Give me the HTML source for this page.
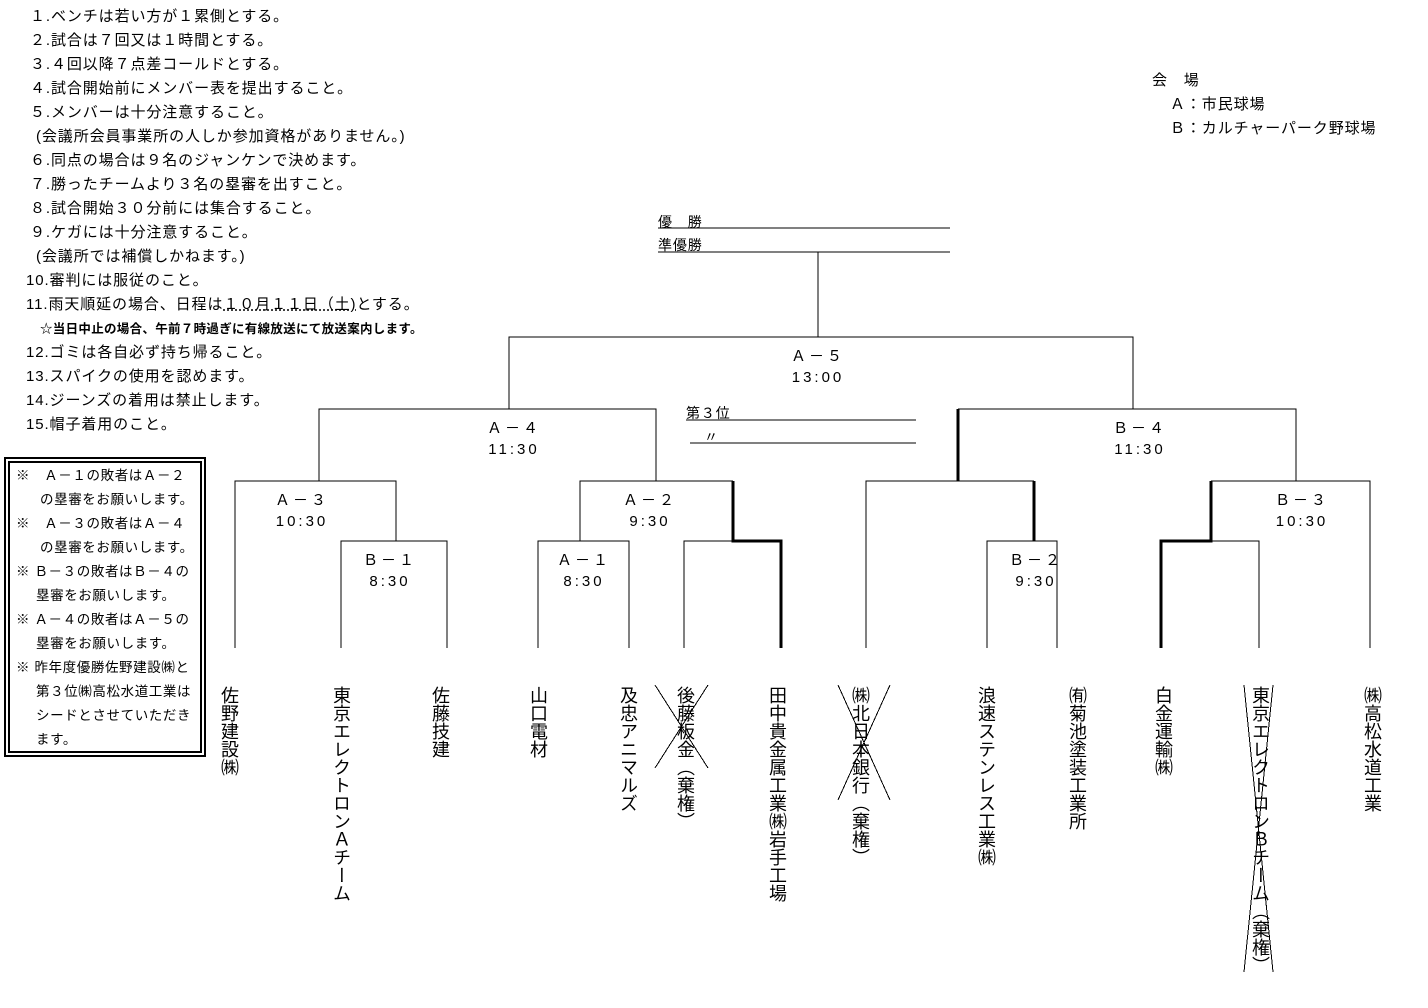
<!DOCTYPE html>
<html><head><meta charset="utf-8"><style>
body{margin:0;width:1428px;height:1008px;background:#fff;position:relative;overflow:hidden;font-family:"Liberation Sans","Noto Sans CJK JP","IPAGothic",sans-serif;color:#000}
.t{position:absolute;white-space:nowrap;font-size:15px;line-height:18px;letter-spacing:0.9px}
.v{position:absolute;writing-mode:vertical-rl;font-size:18px;line-height:18px;top:686px;white-space:nowrap;transform:translateX(-50%)}
.c{position:absolute;font-size:15px;letter-spacing:3px;transform:translateX(-50%);white-space:nowrap}
.box{position:absolute;left:4px;top:457px;width:190px;height:288px;border:6px double #000}
.n{position:absolute;font-size:13.5px;line-height:18px;white-space:nowrap;letter-spacing:0.6px}
</style></head><body>
<div class="t" style="left:30px;top:8px">１.ベンチは若い方が１累側とする。</div>
<div class="t" style="left:30px;top:32px">２.試合は７回又は１時間とする。</div>
<div class="t" style="left:30px;top:56px">３.４回以降７点差コールドとする。</div>
<div class="t" style="left:30px;top:80px">４.試合開始前にメンバー表を提出すること。</div>
<div class="t" style="left:30px;top:104px">５.メンバーは十分注意すること。</div>
<div class="t" style="left:36px;top:128px">(会議所会員事業所の人しか参加資格がありません。)</div>
<div class="t" style="left:30px;top:152px">６.同点の場合は９名のジャンケンで決めます。</div>
<div class="t" style="left:30px;top:176px">７.勝ったチームより３名の塁審を出すこと。</div>
<div class="t" style="left:30px;top:200px">８.試合開始３０分前には集合すること。</div>
<div class="t" style="left:30px;top:224px">９.ケガには十分注意すること。</div>
<div class="t" style="left:36px;top:248px">(会議所では補償しかねます。)</div>
<div class="t" style="left:26px;top:272px">10.審判には服従のこと。</div>
<div class="t" style="left:26px;top:296px">11.雨天順延の場合、日程は<span style="text-decoration:underline dotted">１０月１１日（土)</span>とする。</div>
<div class="t" style="left:40px;top:320px;font-size:12.5px;font-weight:bold;letter-spacing:0.3px">☆当日中止の場合、午前７時過ぎに有線放送にて放送案内します。</div>
<div class="t" style="left:26px;top:344px">12.ゴミは各自必ず持ち帰ること。</div>
<div class="t" style="left:26px;top:368px">13.スパイクの使用を認めます。</div>
<div class="t" style="left:26px;top:392px">14.ジーンズの着用は禁止します。</div>
<div class="t" style="left:26px;top:416px">15.帽子着用のこと。</div>

<div class="box"></div>
<div class="n" style="left:16px;top:467px">※　Ａ－１の敗者はＡ－２</div>
<div class="n" style="left:40px;top:491px">の塁審をお願いします。</div>
<div class="n" style="left:16px;top:515px">※　Ａ－３の敗者はＡ－４</div>
<div class="n" style="left:40px;top:539px">の塁審をお願いします。</div>
<div class="n" style="left:16px;top:563px">※ Ｂ－３の敗者はＢ－４の</div>
<div class="n" style="left:36px;top:587px">塁審をお願いします。</div>
<div class="n" style="left:16px;top:611px">※ Ａ－４の敗者はＡ－５の</div>
<div class="n" style="left:36px;top:635px">塁審をお願いします。</div>
<div class="n" style="left:16px;top:659px">※ 昨年度優勝佐野建設㈱と</div>
<div class="n" style="left:36px;top:683px">第３位㈱高松水道工業は</div>
<div class="n" style="left:36px;top:707px">シードとさせていただき</div>
<div class="n" style="left:36px;top:731px">ます。</div>

<div class="t" style="left:1152px;top:72px">会　場</div>
<div class="t" style="left:1170px;top:96px">Ａ：市民球場</div>
<div class="t" style="left:1170px;top:120px">Ｂ：カルチャーパーク野球場</div>

<div class="t" style="left:658px;top:213px;font-size:14px">優　勝</div>
<div class="t" style="left:658px;top:236px;font-size:14px">準優勝</div>
<div class="t" style="left:686px;top:404px;font-size:14px">第３位</div>
<div class="t" style="left:704px;top:428px;font-size:14px">〃</div>

<div class="c" style="left:818px;top:345px">Ａ－５</div>
<div class="c" style="left:818px;top:369px">13:00</div>
<div class="c" style="left:514px;top:417px">Ａ－４</div>
<div class="c" style="left:514px;top:441px">11:30</div>
<div class="c" style="left:1140px;top:417px">Ｂ－４</div>
<div class="c" style="left:1140px;top:441px">11:30</div>
<div class="c" style="left:302px;top:489px">Ａ－３</div>
<div class="c" style="left:302px;top:513px">10:30</div>
<div class="c" style="left:390px;top:549px">Ｂ－１</div>
<div class="c" style="left:390px;top:573px">8:30</div>
<div class="c" style="left:584px;top:549px">Ａ－１</div>
<div class="c" style="left:584px;top:573px">8:30</div>
<div class="c" style="left:650px;top:489px">Ａ－２</div>
<div class="c" style="left:650px;top:513px">9:30</div>
<div class="c" style="left:1036px;top:549px">Ｂ－２</div>
<div class="c" style="left:1036px;top:573px">9:30</div>
<div class="c" style="left:1302px;top:489px">Ｂ－３</div>
<div class="c" style="left:1302px;top:513px">10:30</div>

<svg style="position:absolute;left:0;top:0" width="1428" height="1008">
<g stroke="#000" stroke-width="1" fill="none" shape-rendering="crispEdges">
<path d="M658 228H950M658 252H950M818 252V337M686 420H916M690 443H916"/>
<path d="M509 409V337H1133V409"/>
<path d="M319 481V409H656V481"/>
<path d="M958 409H1296V481"/>
<path d="M235 648V481H396V541"/>
<path d="M341 648V541H447V648"/>
<path d="M580 541V481H733"/>
<path d="M538 648V541H629V648"/>
<path d="M684 648V541H733"/>
<path d="M866 648V481H1034"/>
<path d="M987 648V541H1057V648"/>
<path d="M1211 481H1370V648"/>
<path d="M1211 541H1259V648"/>
<path d="M655 685L708 768M708 685L655 768"/>
<path d="M838 685L890 800M890 685L838 800"/>
<path d="M1244 685L1273 972M1273 685L1244 972"/>
</g>
<g stroke="#000" stroke-width="3" fill="none">
<path d="M733 481V541H781V648"/>
<path d="M958 409V481"/>
<path d="M1034 481V541"/>
<path d="M1211 481V541H1161V648"/>
</g>
</svg>

<div class="v" style="left:229px">佐野建設㈱</div>
<div class="v" style="left:341px">東京エレクトロンＡチーム</div>
<div class="v" style="left:440px">佐藤技建</div>
<div class="v" style="left:538px">山口電材</div>
<div class="v" style="left:628px">及忠アニマルズ</div>
<div class="v" style="left:685px">後藤板金（棄権）</div>
<div class="v" style="left:777px">田中貴金属工業㈱岩手工場</div>
<div class="v" style="left:860px">㈱北日本銀行（棄権）</div>
<div class="v" style="left:986px">浪速ステンレス工業㈱</div>
<div class="v" style="left:1077px">㈲菊池塗装工業所</div>
<div class="v" style="left:1163px">白金運輸㈱</div>
<div class="v" style="left:1260px">東京エレクトロンＢチーム（棄権）</div>
<div class="v" style="left:1372px">㈱高松水道工業</div>
</body></html>
